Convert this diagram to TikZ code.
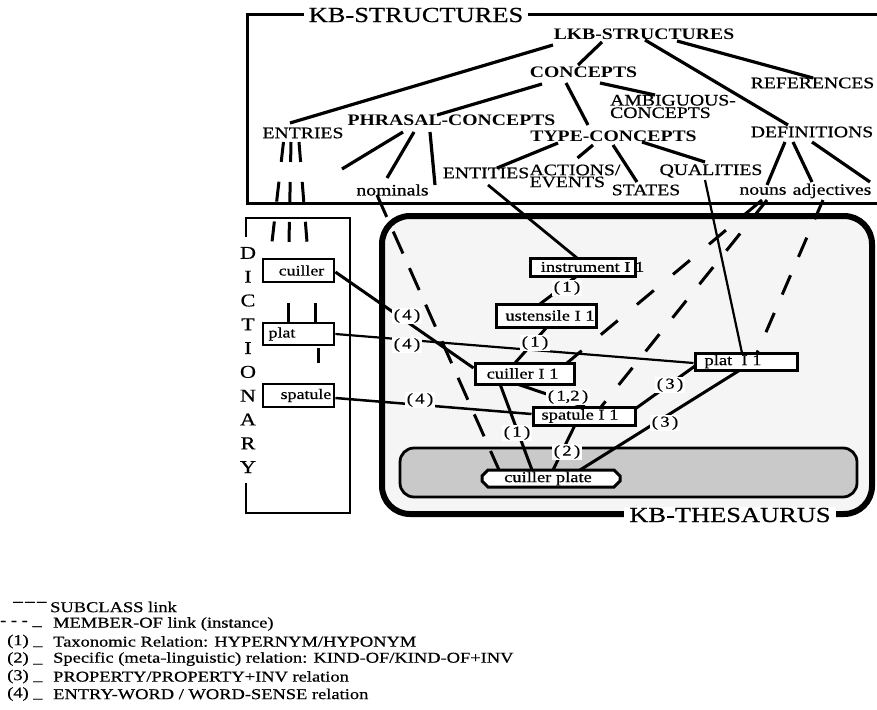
\documentclass[tikz,border=0pt]{standalone}
\usepackage{fontspec}
\setmainfont{Liberation Serif}[FakeStretch=1.23, UprightFeatures={FakeBold=0.6}]
\usetikzlibrary{calc,shapes.misc}
\newcommand\fsz[1]{\fontsize{#1}{#1}\selectfont}
\newcommand\ov[2]{\makebox[0pt]{\hspace*{#1}#2\hspace*{-#1}}}
\pgfdeclarelayer{bg}
\pgfdeclarelayer{mid}
\pgfsetlayers{bg,mid,main}
\tikzset{
  lbl/.style={inner sep=0pt, font=\fsz{16}},
  blbl/.style={inner sep=0pt, font=\fsz{16}\bfseries},
  bigttl/.style={inner xsep=5pt, inner ysep=1pt, fill=white, font=\fsz{21.5}},
  tree/.style={line width=3.2pt},
  rel/.style={line width=3pt},
  subln/.style={line width=3pt, dash pattern=on 20pt off 20pt},
  wbox/.style={draw, line width=3pt, fill=white, inner sep=0pt, font=\fsz{15}},
  dbox/.style={draw, line width=2.8pt, fill=white, inner sep=0pt, font=\fsz{14.5}, minimum width=71pt},
  rlab/.style={fill=white, inner sep=1.5pt, font=\fsz{15}},
  leg/.style={anchor=west, inner sep=0pt, font=\fsz{15}},
}
\begin{document}
\begin{tikzpicture}[x=1pt,y=-1pt]
\useasboundingbox (0,0) rectangle (877,709);

% ---------- containers ----------
\begin{pgfonlayer}{bg}
\node[draw, line width=6pt, fill=black!4, rounded corners=28pt, minimum width=490pt, minimum height=298pt, inner sep=0pt] (thes) at (627,365) {};
\node[draw, line width=2.8pt, fill=black!21, rounded corners=14pt, minimum width=457pt, minimum height=49pt, inner sep=0pt] (cgroup) at (628.5,472.5) {};
\draw[line width=3pt] (877,15) -- (247,15) -- (247,203) -- (877,203);
\draw[line width=2.8pt] (246,237) -- (246,218) -- (350,218) -- (350,513) -- (246,513) -- (246,483);
\end{pgfonlayer}

\node[bigttl] (kbs) at (416,15) {KB-STRUCTURES};
\node[bigttl] (kbt) at (730,515) {KB-THESAURUS};
\node[inner sep=0pt, align=center, font=\fontsize{18}{23.8}\selectfont] (dict) at (248,360) {D\\I\\C\\T\\I\\O\\N\\A\\R\\Y};

% ---------- KB-STRUCTURES tree ----------
\node[blbl] (lkb) at (644,34) {LKB-STRUCTURES};
\node[blbl] (concepts) at (583.5,72) {CONCEPTS};
\node[blbl] (phrasal) at (451.5,120) {PHRASAL-CONCEPTS};
\node[blbl] (typec) at (613.5,136.5) {TYPE-CONCEPTS};
\node[lbl] (entries) at (303,133) {ENTRIES};
\node[lbl] (refs) at (812.5,83) {REFERENCES};
\node[lbl, align=left, font=\fontsize{16}{12.5}\selectfont] (ambig) at (673,106.5) {AMBIGUOUS-\\CONCEPTS};
\node[lbl] (entities) at (486,173) {ENTITIES};
\node[lbl, align=left, font=\fontsize{16}{12}\selectfont] (actions) at (575,176) {ACTIONS/\\EVENTS};
\node[lbl] (states) at (646,190) {STATES};
\node[lbl] (qual) at (711,171) {QUALITIES};
\node[lbl] (defs) at (812,132) {DEFINITIONS};
\node[lbl] (nominals) at (392.5,190) {nominals};
\node[lbl] (nouns) at (763,191) {nouns};
\node[lbl] (adjs) at (832,191) {adjectives};
\coordinate (phA) at (342,169);
\coordinate (phB) at (435,185);

% ---------- thesaurus boxes ----------
\node[wbox, minimum width=105pt, minimum height=18pt] (instrB) at (582.5,267) {\ov{10pt}{instrument I 1}};
\node[wbox, minimum width=100pt, minimum height=23pt] (ustB) at (546,315.5) {\ov{4pt}{ustensile I 1}};
\node[wbox, minimum width=99pt, minimum height=21pt] (cuilIB) at (524.5,373.5) {\ov{-2pt}{cuiller I 1}};
\node[wbox, minimum width=102pt, minimum height=18pt] (spatIB) at (584,416) {\ov{-4pt}{spatule I 1}};
\node[wbox, minimum width=102pt, minimum height=17pt] (platIB) at (746,361.5) {\ov{-13pt}{plat\ \ I 1}};
\node[wbox, chamfered rectangle, chamfered rectangle xsep=6pt, chamfered rectangle ysep=6pt, minimum width=138pt, minimum height=17pt] (cplate) at (551,478.5) {\ov{-3pt}{cuiller plate}};

% ---------- dictionary boxes ----------
\node[dbox, minimum height=23pt] (cuillerD) at (298.5,270.5) {\ov{3pt}{cuiller}};
\node[dbox, minimum height=22pt] (platD) at (298.5,334) {\ov{-16.5pt}{plat}};
\node[dbox, minimum height=23pt] (spatD) at (298.5,395.5) {\ov{7.5pt}{spatule}};

% ---------- relation labels ----------
\node[rlab] (r1) at (407,316) {(\,4\,)};
\node[rlab] (r2) at (407,345) {(\,4\,)};
\node[rlab] (r3) at (420,400) {(\,4\,)};
\node[rlab] (r4) at (567,288) {(\,1\,)};
\node[rlab] (r5) at (535,343) {(\,1\,)};
\node[rlab] (r6) at (568,397) {(\,1,2\,)};
\node[rlab] (r7) at (517,433) {(\,1\,)};
\node[rlab] (r8) at (567,452) {(\,2\,)};
\node[rlab] (r9) at (670,385) {(\,3\,)};
\node[rlab] (r10) at (665,423) {(\,3\,)};

% ---------- connectors ----------
\begin{pgfonlayer}{mid}
\draw[tree] ($(lkb)+(-91,11)$) -- ($(entries)+(-13,-10)$);
\draw[tree] ($(lkb)+(-42,8)$) -- ($(concepts)+(-5.5,-7)$);
\draw[tree] ($(concepts)+(-41.5,12)$) -- ($(phrasal)+(-14.5,-5)$);
\draw[tree] ($(lkb)+(1,6)$) -- ($(defs)+(-24,-7)$);
\draw[tree] ($(lkb)+(33,7)$) -- ($(refs)+(0.5,-5)$);
\draw[tree] ($(concepts)+(16.5,11)$) -- ($(ambig)+(-18,-11.5)$);
\draw[tree] ($(concepts)+(-17.5,11)$) -- ($(typec)+(-25.5,-11.5)$);
\draw[tree] ($(typec)+(-55.5,6.5)$) -- ($(entities)+(11,-5)$);
\draw[tree] ($(typec)+(-20.5,8.5)$) -- ($(actions)+(2.5,-18)$);
\draw[tree] ($(typec)+(-0.5,8.5)$) -- ($(states)+(-9,-8)$);
\draw[tree] ($(typec)+(28.5,5.5)$) -- ($(qual)+(-6,-9)$);
\draw[tree] ($(defs)+(-27,10)$) -- ($(nouns)+(4,-6)$);
\draw[tree] ($(defs)+(-19,10)$) -- ($(adjs)+(-20,-9)$);
\draw[tree] ($(defs)+(0,10)$) -- ($(adjs)+(38,-9)$);
\draw[tree] ($(phrasal)+(-48.5,12)$) -- (phA);
\draw[tree] ($(phrasal)+(-37.5,12)$) -- ($(nominals)+(-5.5,-12)$);
\draw[tree] ($(phrasal)+(-21.5,12)$) -- (phB);

% entries to dictionary (subclass, dashed)
\draw[subln] ($(entries)+(-19.5,9)$) -- ($(cuillerD)+(-26.5,-28.5)$);
\draw[subln] ($(entries)+(-12,9)$) -- ($(cuillerD)+(-9.5,-28.5)$);
\draw[subln] ($(entries)+(-4,9)$) -- ($(cuillerD)+(8.5,-28.5)$);
\draw[subln, dash phase=20pt] ($(cuillerD.south)+(-10.5,0)$) -- ($(platD.north)+(-10.5,0)$);
\draw[subln, dash phase=20pt] ($(cuillerD.south)+(16.5,0)$) -- ($(platD.north)+(16.5,0)$);
\draw[line width=3pt, dash pattern=on 15pt off 21pt, dash phase=34pt] ($(platD.south)+(19.5,0)$) -- ($(spatD.north)+(19.5,0)$);

% member-of dashed lines
\draw[line width=3pt, dash pattern=on 24pt off 16pt] ($(nominals)+(-15.5,5)$) -- ($(cplate)+(-52,-8.5)$);
\draw[line width=3pt, dash pattern=on 22pt off 25pt] ($(nouns)+(-1,9)$) -- ($(cuilIB)+(42.5,-10.5)$);
\draw[line width=3pt, dash pattern=on 22pt off 21pt] ($(nouns)+(4,9)$) -- ($(spatIB)+(17,-9)$);
\draw[line width=3pt, dash pattern=on 21pt off 20pt] ($(adjs)+(-9,9)$) -- ($(platIB)+(11,-8.5)$);

% solid links from structures
\draw[line width=2.8pt] ($(entities)+(2,12)$) -- ($(instrB)+(-5.5,-9)$);
\draw[line width=2.2pt] ($(qual)+(-6,9)$) -- ($(platIB)+(-4,-8.5)$);

% (4) entry-word / word-sense
\draw[rel] ($(cuillerD.east)+(0,1.5)$) -- ($(cuilIB.west)+(0,-5.5)$);
\draw[line width=2.2pt] (platD.east) -- ($(platIB.west)+(0,1.5)$);
\draw[line width=2.5pt] ($(spatD.east)+(0,2.5)$) -- ($(spatIB.west)+(0,-2)$);

% thesaurus relations
\draw[rel] ($(instrB)+(-5.5,9)$) -- ($(ustB)+(-6,-11.5)$);
\draw[rel] ($(ustB)+(1,11.5)$) -- ($(cuilIB)+(-9.5,-10.5)$);
\draw[rel] ($(cuilIB)+(-7.5,10.5)$) -- ($(spatIB)+(1,-9)$);
\draw[rel] ($(cuilIB)+(-24.5,10.5)$) -- ($(cplate)+(-19,-8.5)$);
\draw[rel] ($(spatIB)+(-9,9)$) -- ($(cplate)+(2,-8.5)$);
\draw[rel] ($(platIB)+(-51,4.5)$) -- ($(spatIB)+(51,-7)$);
\draw[rel] ($(platIB)+(-6,8.5)$) -- ($(cplate)+(29,-8.5)$);
\end{pgfonlayer}

% ---------- legend ----------
\node[leg, font=\fsz{17}] (s0) at (12,605) {−−−};
\node[leg] (t0) at (50,607) {SUBCLASS link};
\node[leg] (s1) at (0,624) {- - - \_};
\node[leg] (t1) at (53,624) {MEMBER-OF link (instance)};
\node[leg] (s2) at (7,641.5) {(1) \_};
\node[leg] (t2) at (53,641.5) {Taxonomic Relation: HYPERNYM/HYPONYM};
\node[leg] (s3) at (7,659) {(2) \_};
\node[leg] (t3) at (53,659) {Specific (meta-linguistic) relation: KIND-OF/KIND-OF+INV};
\node[leg] (s4) at (7,676.5) {(3) \_};
\node[leg] (t4) at (53,676.5) {PROPERTY/PROPERTY+INV relation};
\node[leg] (s5) at (7,694) {(4) \_};
\node[leg] (t5) at (53,694) {ENTRY-WORD / WORD-SENSE relation};
\end{tikzpicture}
\end{document}
